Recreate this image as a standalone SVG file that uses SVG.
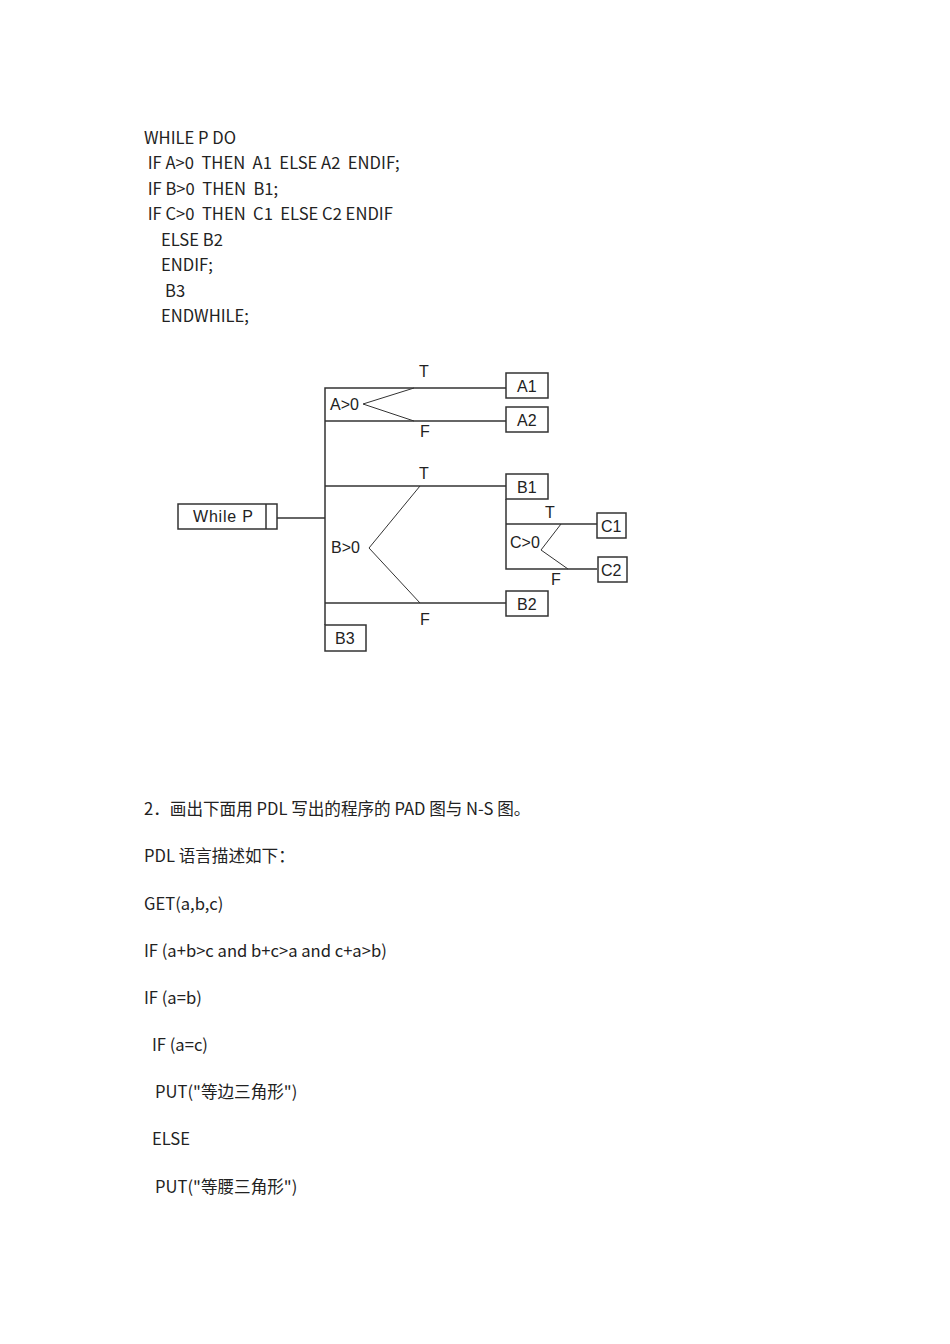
<svg xmlns="http://www.w3.org/2000/svg" width="950" height="1344" viewBox="0 0 950 1344">
<style>
.t{font-family:"Noto Sans CJK SC","Noto Sans",sans-serif;font-size:16.6px;fill:#222;white-space:pre}
.l{font-family:"Liberation Sans",Arial,sans-serif;font-size:16px;fill:#222}
.b{fill:#fff;stroke:#333;stroke-width:1.5}
.c{fill:none;stroke:#333;stroke-width:1.5}
.z{fill:none;stroke:#333;stroke-width:1}
</style>
<rect width="950" height="1344" fill="#fff"/>
<g id="code">
<text class="t" x="144" y="144">WHILE P DO</text>
<text class="t" x="144" y="169"> IF A&gt;0  THEN  A1  ELSE A2  ENDIF;</text>
<text class="t" x="144" y="195"> IF B&gt;0  THEN  B1;</text>
<text class="t" x="144" y="220"> IF C&gt;0  THEN  C1  ELSE C2 ENDIF</text>
<text class="t" x="161" y="246">ELSE B2</text>
<text class="t" x="161" y="271">ENDIF;</text>
<text class="t" x="165" y="297">B3</text>
<text class="t" x="161" y="322">ENDWHILE;</text>
</g>
<g id="connectors">
<line class="c" x1="277" y1="518" x2="325" y2="518"/>
<polyline class="c" points="325,625 325,388 506,388"/>
<line class="c" x1="325" y1="421" x2="506" y2="421"/>
<line class="c" x1="325" y1="486" x2="506" y2="486"/>
<line class="c" x1="325" y1="603" x2="506" y2="603"/>
<polyline class="c" points="506,499 506,569 597,569"/>
<line class="c" x1="506" y1="524" x2="597" y2="524"/>
<polyline class="z" points="414,388 363,404 414,421"/>
<polyline class="z" points="420,486 369,548 420,603"/>
<polyline class="z" points="561,524 541,550 568,569"/>
<text class="l" x="419" y="377">T</text>
<text class="l" x="420" y="437">F</text>
<text class="l" x="419" y="479">T</text>
<text class="l" x="420" y="625">F</text>
<text class="l" x="545" y="518">T</text>
<text class="l" x="551" y="585">F</text>
</g>
<g id="whileP">
<rect class="b" x="178" y="504" width="99" height="25"/>
<line class="c" x1="266" y1="504" x2="266" y2="529"/>
<text class="l" x="193" y="522" letter-spacing="0.8">While P</text>
</g>
<g id="condA"><text class="l" x="330" y="410">A&gt;0</text></g>
<g id="condB"><text class="l" x="331" y="553">B&gt;0</text></g>
<g id="condC"><text class="l" x="510" y="548">C&gt;0</text></g>
<g id="A1"><rect class="b" x="506" y="373" width="42" height="25"/><text class="l" x="517" y="392">A1</text></g>
<g id="A2"><rect class="b" x="506" y="407" width="42" height="25"/><text class="l" x="517" y="426">A2</text></g>
<g id="B1"><rect class="b" x="506" y="474" width="42" height="25"/><text class="l" x="517" y="493">B1</text></g>
<g id="B2"><rect class="b" x="506" y="591" width="42" height="25"/><text class="l" x="517" y="610">B2</text></g>
<g id="B3"><rect class="b" x="325" y="625" width="41" height="26"/><text class="l" x="335" y="644">B3</text></g>
<g id="C1"><rect class="b" x="597" y="513" width="29" height="25"/><text class="l" x="601" y="532">C1</text></g>
<g id="C2"><rect class="b" x="598" y="557" width="29" height="25"/><text class="l" x="601" y="576">C2</text></g>
<g id="pdl">
<text class="t" x="144" y="815">2．画出下面用 PDL 写出的程序的 PAD 图与 N-S 图。</text>
<text class="t" x="144" y="862">PDL 语言描述如下：</text>
<text class="t" x="144" y="910">GET(a,b,c)</text>
<text class="t" x="144" y="957">IF (a+b&gt;c and b+c&gt;a and c+a&gt;b)</text>
<text class="t" x="144" y="1004">IF (a=b)</text>
<text class="t" x="152" y="1051">IF (a=c)</text>
<text class="t" x="155" y="1098">PUT("等边三角形")</text>
<text class="t" x="152" y="1145">ELSE</text>
<text class="t" x="155" y="1193">PUT("等腰三角形")</text>
</g>
</svg>
